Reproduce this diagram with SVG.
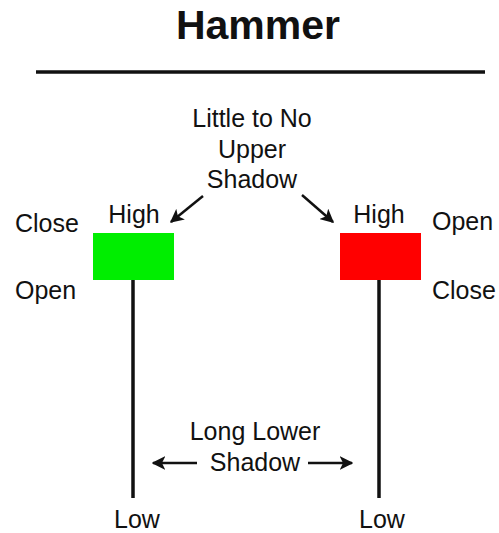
<svg xmlns="http://www.w3.org/2000/svg" width="499" height="533" viewBox="0 0 499 533">
<style>
text{font-family:"Liberation Sans",Arial,sans-serif;fill:#111;font-size:25px}
.c{text-anchor:middle}
.wick{stroke:#111;stroke-width:3.5}
.arr{stroke:#111;stroke-width:2.5;fill:none;marker-end:url(#ah)}
</style>
<defs>
<marker id="ah" viewBox="0 0 10 10" refX="9" refY="5" markerWidth="5.5" markerHeight="5.5" orient="auto" markerUnits="strokeWidth">
<path d="M0,0 L10,5 L0,10 L2.5,5 Z" fill="#111"/>
</marker>
</defs>
<rect width="499" height="533" fill="#fff"/>
<g id="title">
<text x="258" y="39" class="c" style="font-size:41px;font-weight:bold">Hammer</text>
<line x1="36" y1="72" x2="485" y2="72" stroke="#111" stroke-width="3.5"/>
</g>
<g id="upper-label">
<text x="252" y="127" class="c">Little to No</text>
<text x="252" y="158" class="c">Upper</text>
<text x="252" y="188" class="c">Shadow</text>
</g>
<g id="lower-label">
<text x="255" y="440" class="c">Long Lower</text>
<text x="255" y="471" class="c">Shadow</text>
</g>
<g id="green-candle">
<line class="wick" x1="133" y1="280" x2="133" y2="498"/>
<rect x="93" y="233" width="81" height="47" fill="#00ee00"/>
<text x="134" y="223" class="c">High</text>
<text x="137" y="528" class="c">Low</text>
<text x="15" y="232">Close</text>
<text x="15" y="299">Open</text>
</g>
<g id="red-candle">
<line class="wick" x1="379" y1="280" x2="379" y2="498"/>
<rect x="340" y="233" width="81" height="47" fill="#ff0000"/>
<text x="379" y="223" class="c">High</text>
<text x="382" y="528" class="c">Low</text>
<text x="432" y="230">Open</text>
<text x="432" y="299">Close</text>
</g>
<g id="connectors">
<line class="arr" x1="203" y1="196" x2="171" y2="222"/>
<line class="arr" x1="302" y1="195" x2="333" y2="222"/>
<line class="arr" x1="197" y1="463" x2="153" y2="463"/>
<line class="arr" x1="308" y1="463" x2="352" y2="463"/>
</g>
</svg>
